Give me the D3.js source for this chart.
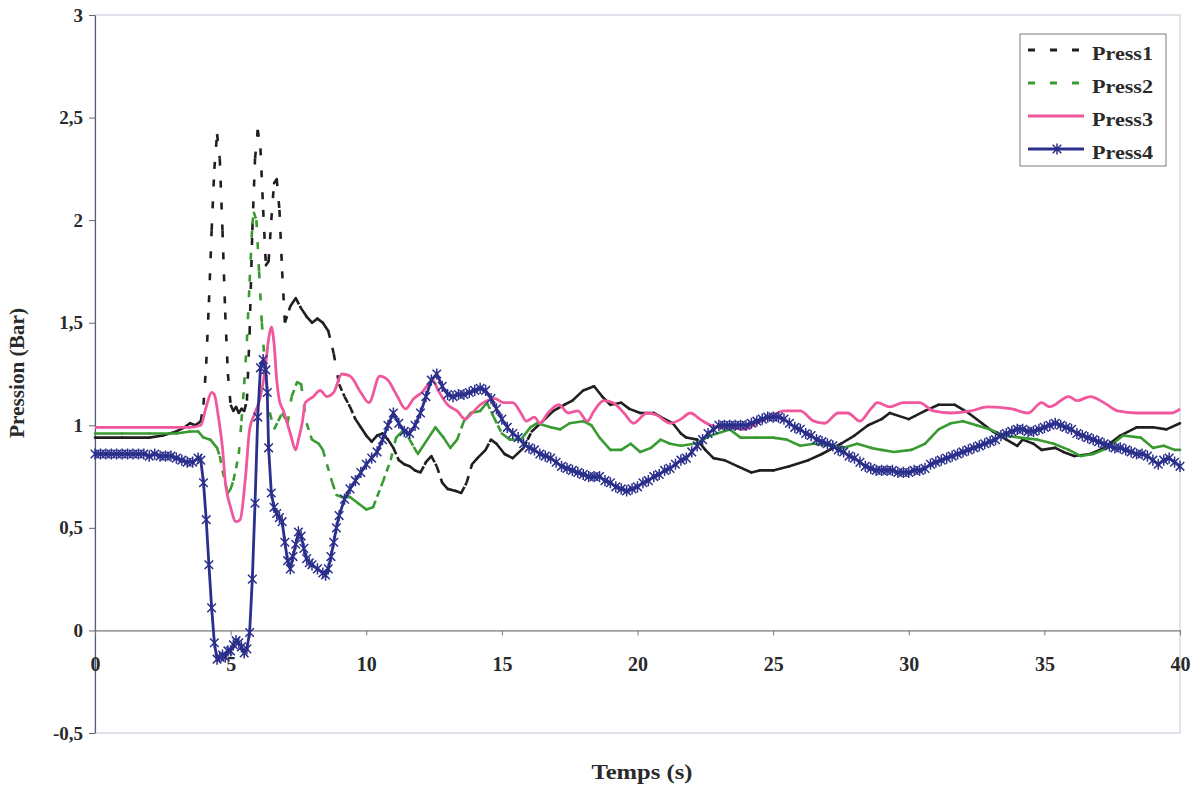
<!DOCTYPE html>
<html><head><meta charset="utf-8">
<script src="https://cdn.jsdelivr.net/npm/d3@7"></script>
<style>
body{margin:0;background:#fff;}
svg{display:block;}
text{font-family:"Liberation Serif","Times New Roman",serif;font-weight:bold;fill:#2a2a2a;}
</style>
</head><body>
<svg id="chart" width="1194" height="785"></svg>
<script>
const xTicks = [0,5,10,15,20,25,30,35,40];
const yTicks = [-0.5,0,0.5,1,1.5,2,2.5,3];
const yTickLabels = ["-0,5","0","0,5","1","1,5","2","2,5","3"];
const seriesNames = ["Press1","Press2","Press3","Press4"];
const xTitle = "Temps (s)";
const yTitle = "Pression (Bar)";

const p1Time = [0,1,2,2.5,3,3.3,3.5,3.7,3.9,4.0,4.1,4.2,4.3,4.4,4.5,4.6,4.7,4.8,4.9,
  5.0,5.1,5.2,5.3,5.4,5.5,5.6,5.7,5.8,5.9,6.0,6.1,6.2,6.3,6.4,6.5,6.6,6.7,6.8,6.9,
  7.0,7.2,7.4,7.6,7.8,8.0,8.2,8.4,8.6,8.8,9.0,9.2,9.4,9.6,9.8,10.0,10.2,10.4,10.6,10.8,
  11.0,11.2,11.4,11.6,11.8,12.0,12.2,12.4,12.6,12.8,13.0,13.3,13.5,13.7,13.9,14.1,14.4,14.6,14.8,
  15.1,15.4,15.8,16.1,16.5,16.9,17.3,17.6,18.0,18.4,18.7,19.0,19.4,19.7,20.1,20.6,21.0,21.3,21.6,21.8,
  22.2,22.5,22.8,23.2,23.7,24.2,24.5,25.0,25.6,26.3,26.8,27.5,28.0,28.5,29.0,29.3,30.0,30.6,31.1,31.7,
  32.2,32.7,33.1,33.6,34.0,34.2,34.6,34.9,35.4,35.7,36.1,36.7,37.2,37.8,38.4,39.0,39.5,40];
const p1Vals = [0.94,0.94,0.94,0.95,0.97,0.99,1.01,1.0,1.02,1.1,1.3,1.6,1.95,2.25,2.42,2.3,1.95,1.55,1.25,
  1.1,1.07,1.09,1.06,1.08,1.07,1.12,1.45,1.95,2.3,2.44,2.35,2.05,1.78,1.8,2.0,2.18,2.2,2.05,1.75,
  1.5,1.58,1.62,1.57,1.53,1.5,1.52,1.5,1.46,1.35,1.2,1.14,1.09,1.03,0.99,0.95,0.92,0.95,0.96,0.93,
  0.89,0.83,0.81,0.8,0.78,0.77,0.82,0.85,0.8,0.72,0.69,0.68,0.67,0.72,0.81,0.84,0.88,0.93,0.91,
  0.86,0.84,0.89,0.97,1.02,1.07,1.1,1.12,1.17,1.19,1.14,1.1,1.11,1.08,1.06,1.06,1.03,1.01,0.96,0.94,
  0.93,0.88,0.84,0.83,0.8,0.77,0.78,0.78,0.8,0.83,0.86,0.91,0.95,1.0,1.03,1.06,1.03,1.07,1.1,1.1,
  1.06,1.01,0.97,0.93,0.9,0.93,0.91,0.88,0.89,0.87,0.85,0.86,0.89,0.95,0.99,0.99,0.98,1.01];

const p2Time = [0,1,2,3,3.5,3.8,4.0,4.25,4.5,4.6,4.7,4.8,4.9,5.0,5.1,5.2,5.3,5.4,5.5,5.6,5.7,5.8,5.85,5.95,
  6.05,6.15,6.25,6.35,6.45,6.6,6.75,6.9,7.1,7.25,7.45,7.6,7.7,7.8,8.0,8.25,8.4,8.55,8.75,8.9,9.1,9.4,9.7,
  10.0,10.25,10.6,10.9,11.1,11.4,11.6,11.9,12.25,12.55,12.85,13.1,13.35,13.6,13.85,14.2,14.45,14.7,
  15.0,15.3,15.7,16.05,16.3,16.8,17.15,17.5,18.0,18.3,18.6,19.0,19.4,19.75,20.1,20.5,20.85,21.2,21.6,
  22.1,22.7,23.4,23.8,24.4,25.0,25.5,26.0,26.5,27.1,27.6,28.1,28.6,29.0,29.45,30.1,30.6,31.1,31.55,
  32.0,32.5,33.0,33.5,34.1,34.75,35.35,35.9,36.35,36.8,37.35,37.9,38.55,39.0,39.4,39.8,40];
const p2Vals = [0.96,0.96,0.96,0.96,0.97,0.97,0.94,0.93,0.89,0.85,0.78,0.72,0.67,0.69,0.73,0.79,0.86,1.02,1.2,1.41,1.7,1.98,2.04,2.0,
  1.75,1.5,1.32,1.17,1.06,0.98,1.02,1.06,1.01,1.14,1.21,1.2,1.1,1.01,0.93,0.91,0.88,0.81,0.72,0.66,0.65,0.65,0.62,
  0.59,0.6,0.72,0.83,0.94,0.98,0.93,0.86,0.93,0.99,0.94,0.89,0.93,1.02,1.06,1.07,1.11,1.04,
  0.96,0.93,0.93,0.99,1.01,0.99,0.98,1.01,1.02,1.0,0.94,0.88,0.88,0.91,0.87,0.89,0.93,0.91,0.9,
  0.91,0.95,0.98,0.94,0.94,0.94,0.93,0.9,0.91,0.9,0.89,0.91,0.89,0.88,0.87,0.88,0.91,0.98,1.01,
  1.02,1.0,0.98,0.95,0.94,0.93,0.91,0.88,0.85,0.86,0.89,0.95,0.94,0.89,0.9,0.88,0.88];

const p3Time = [0,1,2,3,3.5,3.9,4.1,4.3,4.4,4.55,4.7,4.8,5.0,5.2,5.35,5.55,5.7,5.9,6.1,6.27,6.4,6.5,6.6,6.7,6.8,6.95,
  7.2,7.4,7.5,7.65,7.75,8.05,8.3,8.55,8.8,9.1,9.4,9.8,10.1,10.5,10.8,11.15,11.45,11.75,12.05,12.45,12.65,
  13.0,13.35,13.65,13.9,14.2,14.45,14.75,15.05,15.4,15.7,15.9,16.2,16.4,16.7,17.1,17.45,17.8,18.15,18.4,18.75,
  19.1,19.5,19.85,20.35,20.7,21.2,21.6,21.95,22.3,22.7,23.05,23.4,23.9,24.4,24.9,25.4,26.0,26.5,26.9,27.4,27.75,
  28.2,28.6,28.85,29.3,29.8,30.4,30.9,31.55,32.3,32.9,33.8,34.4,34.9,35.2,35.9,36.2,36.7,37.2,37.7,38.4,39.0,39.7,40];
const p3Vals = [0.99,0.99,0.99,0.99,0.99,1.0,1.09,1.16,1.15,1.04,0.89,0.73,0.6,0.53,0.54,0.75,0.98,1.06,1.14,1.27,1.42,1.48,1.4,1.22,1.12,1.07,
  0.96,0.88,0.93,1.02,1.11,1.14,1.17,1.14,1.16,1.25,1.24,1.16,1.11,1.24,1.22,1.14,1.08,1.13,1.16,1.22,1.17,
  1.1,1.07,1.03,1.06,1.1,1.12,1.13,1.11,1.11,1.06,1.02,1.04,1.01,1.06,1.1,1.06,1.07,1.02,1.07,1.12,
  1.11,1.06,1.01,1.06,1.05,1.01,1.03,1.06,1.03,1.0,0.99,0.99,0.98,1.01,1.04,1.07,1.07,1.02,1.01,1.06,1.06,
  1.02,1.08,1.11,1.09,1.11,1.11,1.07,1.06,1.07,1.09,1.08,1.06,1.11,1.09,1.14,1.12,1.14,1.11,1.07,1.06,1.06,1.06,1.08];

const p4Time = [0,0.2,0.4,0.6,0.8, 1,1.2,1.4,1.6,1.8, 2,2.2,2.4,2.6,2.8, 3,3.2,3.4,3.6,3.8,
  3.9,4,4.1,4.2,4.3,4.4,4.5,4.6,4.7,4.8,4.9,
  5,5.1,5.2,5.3,5.4,5.5,5.6,5.7,5.8,5.9,
  6,6.1,6.2,6.3,6.35,6.4,6.5,6.6,6.7,6.8,6.9,
  7,7.1,7.2,7.3,7.4,7.5,7.6,7.7,7.8,7.9,
  8,8.2,8.4,8.5,8.6,8.7,8.8,8.9,
  9,9.2,9.4,9.6,9.8,
  10,10.2,10.4,10.6,10.8, 11,11.2,11.4,11.6,11.8, 12,12.2,12.4,12.6,12.8, 13,13.2,13.4,13.6,13.8,
  14,14.2,14.4,14.6,14.8, 15,15.2,15.4,15.6,15.8, 16,16.2,16.4,16.6,16.8, 17,17.2,17.4,17.6,17.8,
  18,18.2,18.4,18.6,18.8, 19,19.2,19.4,19.6,19.8, 20,20.2,20.4,20.6,20.8, 21,21.2,21.4,21.6,21.8,
  22,22.2,22.4,22.6,22.8, 23,23.2,23.4,23.6,23.8, 24,24.2,24.4,24.6,24.8, 25,25.2,25.4,25.6,25.8,
  26,26.2,26.4,26.6,26.8, 27,27.2,27.4,27.6,27.8, 28,28.2,28.4,28.6,28.8, 29,29.2,29.4,29.6,29.8,
  30,30.2,30.4,30.6,30.8, 31,31.2,31.4,31.6,31.8, 32,32.2,32.4,32.6,32.8, 33,33.2,33.4,33.6,33.8,
  34,34.2,34.4,34.6,34.8, 35,35.2,35.4,35.6,35.8, 36,36.2,36.4,36.6,36.8, 37,37.2,37.4,37.6,37.8,
  38,38.2,38.4,38.6,38.8, 39,39.2,39.4,39.6,39.8, 40];
const p4Vals = [0.86,0.86,0.86,0.86,0.86, 0.86,0.86,0.86,0.86,0.86, 0.85,0.86,0.85,0.85,0.85, 0.84,0.83,0.82,0.82,0.84,
  0.83,0.72,0.54,0.32,0.11,-0.06,-0.14,-0.13,-0.12,-0.13,-0.1,
  -0.1,-0.07,-0.05,-0.06,-0.08,-0.11,-0.09,-0.01,0.25,0.62,
  1.04,1.28,1.32,1.27,1.16,0.89,0.67,0.6,0.57,0.55,0.53,
  0.43,0.34,0.3,0.36,0.42,0.48,0.46,0.4,0.35,0.33,
  0.32,0.3,0.28,0.27,0.3,0.36,0.43,0.5,
  0.56,0.64,0.69,0.73,0.77,
  0.81,0.84,0.87,0.93,1.0, 1.06,1.01,0.97,0.96,1.0, 1.06,1.14,1.22,1.25,1.19, 1.15,1.14,1.15,1.15,1.16,
  1.17,1.18,1.17,1.13,1.08, 1.03,0.99,0.96,0.94,0.91, 0.89,0.88,0.86,0.85,0.84, 0.82,0.8,0.79,0.78,0.77,
  0.76,0.75,0.75,0.75,0.73, 0.72,0.7,0.69,0.68,0.69, 0.7,0.72,0.73,0.75,0.76, 0.78,0.79,0.81,0.83,0.84,
  0.87,0.9,0.93,0.96,0.98, 1.0,1.0,1.0,1.0,1.0, 1.0,1.01,1.02,1.03,1.04, 1.04,1.04,1.03,1.01,0.99,
  0.98,0.96,0.95,0.93,0.92, 0.91,0.9,0.88,0.87,0.85, 0.84,0.82,0.8,0.79,0.78, 0.78,0.78,0.78,0.77,0.77,
  0.77,0.78,0.78,0.79,0.81, 0.82,0.83,0.84,0.85,0.86, 0.87,0.88,0.89,0.9,0.91, 0.92,0.93,0.95,0.96,0.97,
  0.98,0.98,0.97,0.97,0.98, 0.99,1.0,1.01,1.0,0.99, 0.98,0.96,0.95,0.94,0.93, 0.92,0.91,0.9,0.89,0.89,
  0.88,0.87,0.86,0.86,0.85, 0.83,0.81,0.83,0.84,0.82, 0.8];

const colors = {p1:"#1f1f1f", p2:"#3a9a32", p3:"#f0579c", p4:"#2b2f8c"};

const svg = d3.select("#chart");
const x = d3.scaleLinear().domain([0,40]).range([95,1180]);
const y = d3.scaleLinear().domain([-0.5,3]).range([733,15]);

// plot frame
svg.append("rect").attr("x",95).attr("y",15).attr("width",1085).attr("height",718)
  .attr("fill","none").attr("stroke","#c4c8d6").attr("stroke-width",1);

// y axis
const yAxis = svg.append("g").attr("transform","translate(95,0)")
  .call(d3.axisLeft(y).tickValues(yTicks).tickFormat((d,i)=>yTickLabels[i]).tickSize(6).tickSizeOuter(0).tickPadding(6));
yAxis.select(".domain").attr("stroke","#5a5e78").attr("stroke-width",1.2);
yAxis.selectAll(".tick line").attr("stroke","#666");
yAxis.selectAll("text").attr("font-size",19).attr("font-family","'Liberation Serif',serif").attr("font-weight","bold").attr("fill","#2a2a2a");

// x axis at zero
const xAxis = svg.append("g").attr("transform",`translate(0,${y(0)})`)
  .call(d3.axisBottom(x).tickValues(xTicks).tickFormat(d3.format("d")).tickSize(5).tickSizeOuter(0).tickPadding(21));
xAxis.select(".domain").attr("stroke","#555").attr("stroke-width",1);
xAxis.selectAll(".tick line").attr("stroke","#777");
xAxis.selectAll("text").attr("font-size",20).attr("font-family","'Liberation Serif',serif").attr("font-weight","bold").attr("fill","#2a2a2a");

// titles
svg.append("text").attr("x",642).attr("y",779).attr("text-anchor","middle")
  .attr("font-size",20).attr("textLength",101).attr("lengthAdjust","spacingAndGlyphs").text(xTitle);
svg.append("text").attr("transform","translate(24,373) rotate(-90)").attr("text-anchor","middle")
  .attr("font-size",20).attr("textLength",130).attr("lengthAdjust","spacingAndGlyphs").text(yTitle);

// Excel-like dashed line: dash pattern restarts at every sample segment
function dashedSeries(times, vals, color){
  const g = svg.append("g");
  const sampleStep = 0.15;
  for(let i=0;i<times.length-1;i++){
    const x1=x(times[i]), y1=y(vals[i]), x2=x(times[i+1]), y2=y(vals[i+1]);
    const L = Math.hypot(x2-x1, y2-y1);
    const Leff = L*sampleStep/(times[i+1]-times[i]);
    const ln = g.append("line").attr("x1",x1).attr("y1",y1).attr("x2",x2).attr("y2",y2)
      .attr("stroke",color).attr("stroke-width",2.6);
    if(Leff>8){
      ln.attr("stroke-dasharray",`7,${Math.min(15,Leff-7).toFixed(1)}`).attr("stroke-linecap","butt");
    } else {
      ln.attr("stroke-linecap","round");
    }
  }
}
dashedSeries(p1Time,p1Vals,colors.p1);
dashedSeries(p2Time,p2Vals,colors.p2);

// Press3 solid
const line3 = d3.line().x((d,i)=>x(p3Time[i])).y(d=>y(d)).curve(d3.curveMonotoneX);
svg.append("path").attr("d",line3(p3Vals)).attr("fill","none").attr("stroke",colors.p3)
  .attr("stroke-width",2.8).attr("stroke-linejoin","round");

// Press4 with star markers
const line4 = d3.line().x((d,i)=>x(p4Time[i])).y(d=>y(d));
svg.append("path").attr("d",line4(p4Vals)).attr("fill","none").attr("stroke",colors.p4)
  .attr("stroke-width",2.8).attr("stroke-linejoin","round");
const starPath = "M-4.3,-4.3L4.3,4.3M-4.3,4.3L4.3,-4.3M0,-5.6L0,5.6";
svg.append("g").selectAll("path").data(p4Vals).join("path")
  .attr("transform",(d,i)=>`translate(${x(p4Time[i])},${y(d)})`)
  .attr("d",starPath).attr("fill","none").attr("stroke",colors.p4).attr("stroke-width",1.5);

// legend
const lg = svg.append("g");
lg.append("rect").attr("x",1020).attr("y",34).attr("width",146).attr("height",132)
  .attr("fill","#fff").attr("stroke","#7a7a7a").attr("stroke-width",1);
const legendColors=[colors.p1,colors.p2,colors.p3,colors.p4];
seriesNames.forEach((name,i)=>{
  const ry = 50+33*i;
  const l = lg.append("line").attr("x1",1028).attr("x2",1084).attr("y1",ry).attr("y2",ry)
    .attr("stroke",legendColors[i]).attr("stroke-width",3);
  if(i<2) l.attr("stroke-dasharray","7,15");
  if(i===3){
    lg.append("path").attr("transform",`translate(1057,${ry})`).attr("d",starPath)
      .attr("fill","none").attr("stroke",colors.p4).attr("stroke-width",1.5);
  }
  lg.append("text").attr("x",1092).attr("y",ry+10).attr("font-size",19)
    .attr("textLength",61).attr("lengthAdjust","spacingAndGlyphs").text(name);
});
</script>
</body></html>
